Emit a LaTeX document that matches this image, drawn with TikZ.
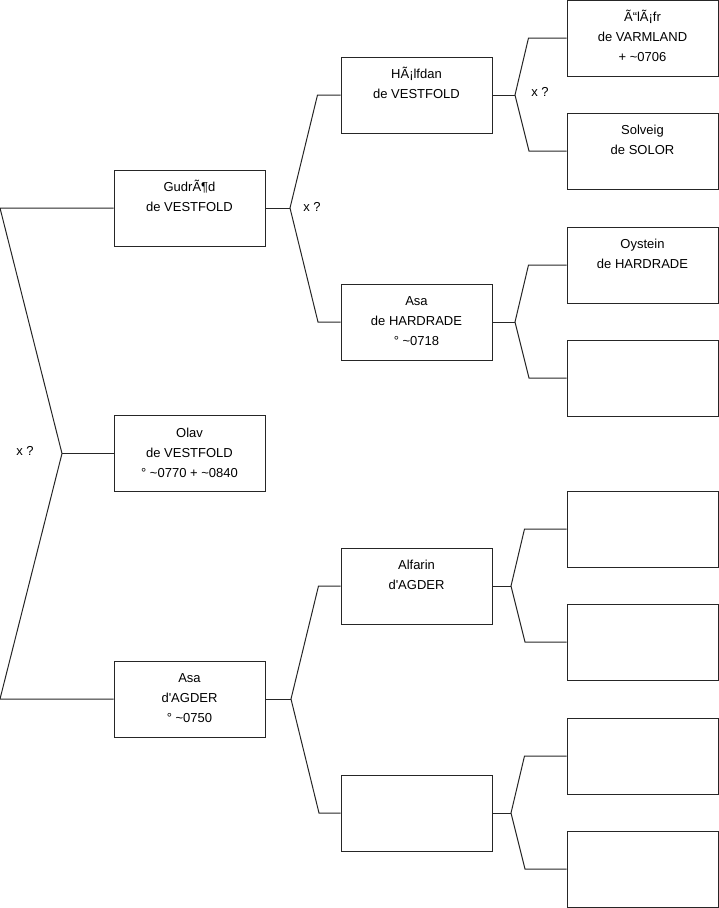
\documentclass[tikz,border=0pt]{standalone}
\usepackage{fontspec}
\setmainfont{Liberation Sans}
\usetikzlibrary{positioning}
\tikzset{
  % boxes of the tree
  person/.style={draw=black!85,line width=1pt,minimum width=151pt,minimum height=76pt,inner sep=0pt},
  ptext/.style={anchor=north,align=center,inner sep=0pt,font=\fontsize{13}{20}\selectfont},
  % connectors
  link/.style={draw=black!85,line width=1pt},
  xq/.style={font=\fontsize{13}{15}\selectfont,inner sep=0pt},
}
\newcommand{\ca}{\textasciitilde}
\newcommand{\apos}{\textquotesingle}

\begin{document}
\begin{tikzpicture}[x=1pt,y=-1pt]
\useasboundingbox (0,0) rectangle (719,908);
%% ===== columns and rows =====
\def\xA{189.5} \def\xB{416.5} \def\xC{642.5}

%% ===== generation 0 / 1 =====
\node[person] (olav)   at (\xA,453.5) {};
\node[person] (gudrod) at (\xA,208) {};
\node[person] (asaA)   at (\xA,699) {};

\node[ptext] (olav-t)   at ([yshift=-8pt]olav.north)   {\strut Olav\\de VESTFOLD\\° \ca0770 + \ca0840};
\node[ptext] (gudrod-t) at ([yshift=-8pt]gudrod.north) {\strut GudrÃ¶d\\de VESTFOLD};
\node[ptext] (asaA-t)   at ([yshift=-8pt]asaA.north)   {\strut Asa\\d\apos AGDER\\° \ca0750};

%% ===== generation 2 =====
\node[person] (halfdan) at (\xB,95)  {};
\node[person] (asaH)    at (\xB,322) {};
\node[person] (alfarin) at (\xB,586) {};
\node[person] (nnB)     at (\xB,813) {};

\node[ptext] (halfdan-t) at ([yshift=-8pt]halfdan.north) {\strut HÃ¡lfdan\\de VESTFOLD};
\node[ptext] (asaH-t)    at ([yshift=-8pt]asaH.north)    {\strut Asa\\de HARDRADE\\° \ca0718};
\node[ptext] (alfarin-t) at ([yshift=-8pt]alfarin.north) {\strut Alfarin\\d\apos AGDER};

%% ===== generation 3 =====
\node[person] (olafr)   at (\xC,38)  {};
\node[person] (solveig) at (\xC,151) {};
\node[person] (oystein) at (\xC,265) {};
\node[person] (nnC1)    at (\xC,378) {};
\node[person] (nnC2)    at (\xC,529) {};
\node[person] (nnC3)    at (\xC,642) {};
\node[person] (nnC4)    at (\xC,756) {};
\node[person] (nnC5)    at (\xC,869) {};

\node[ptext] (olafr-t)   at ([yshift=-8pt]olafr.north)   {\strut Ã“lÃ¡fr\\de VARMLAND\\+ \ca0706};
\node[ptext] (solveig-t) at ([yshift=-8pt]solveig.north) {\strut Solveig\\de SOLOR};
\node[ptext] (oystein-t) at ([yshift=-8pt]oystein.north) {\strut Oystein\\de HARDRADE};

%% ===== brackets =====
\coordinate (b0)  at (62,453.5);
\coordinate (b0u) at (0,208);
\coordinate (b0d) at (0,699);
\draw[link] (olav.west) -- (b0);
\draw[link] (gudrod.west) -- (b0u) -- (b0) -- (b0d) -- (asaA.west);
\node[xq] (x0) at (25,451) {x ?};

\coordinate (b1) at (290,208);
\draw[link] (gudrod.east) -- (b1);
\draw[link] (halfdan.west) -- ++(-23,0) -- (b1) -- (318,322) -- (asaH.west);
\node[xq] (x1) at (312,207) {x ?};

\coordinate (b2) at (291,699);
\draw[link] (asaA.east) -- (b2);
\draw[link] (alfarin.west) -- ++(-22,0) -- (b2) -- (319,813) -- (nnB.west);

\coordinate (b3) at (515,95);
\draw[link] (halfdan.east) -- (b3);
\draw[link] (olafr.west) -- ++(-38,0) -- (b3) -- (529,151) -- (solveig.west);
\node[xq] (x3) at (540,92) {x ?};

\coordinate (b4) at (515,322);
\draw[link] (asaH.east) -- (b4);
\draw[link] (oystein.west) -- ++(-38,0) -- (b4) -- (529,378) -- (nnC1.west);

\coordinate (b5) at (511,586);
\draw[link] (alfarin.east) -- (b5);
\draw[link] (nnC2.west) -- ++(-42,0) -- (b5) -- (525,642) -- (nnC3.west);

\coordinate (b6) at (511,813);
\draw[link] (nnB.east) -- (b6);
\draw[link] (nnC4.west) -- ++(-42,0) -- (b6) -- (525,869) -- (nnC5.west);
\end{tikzpicture}
\end{document}
